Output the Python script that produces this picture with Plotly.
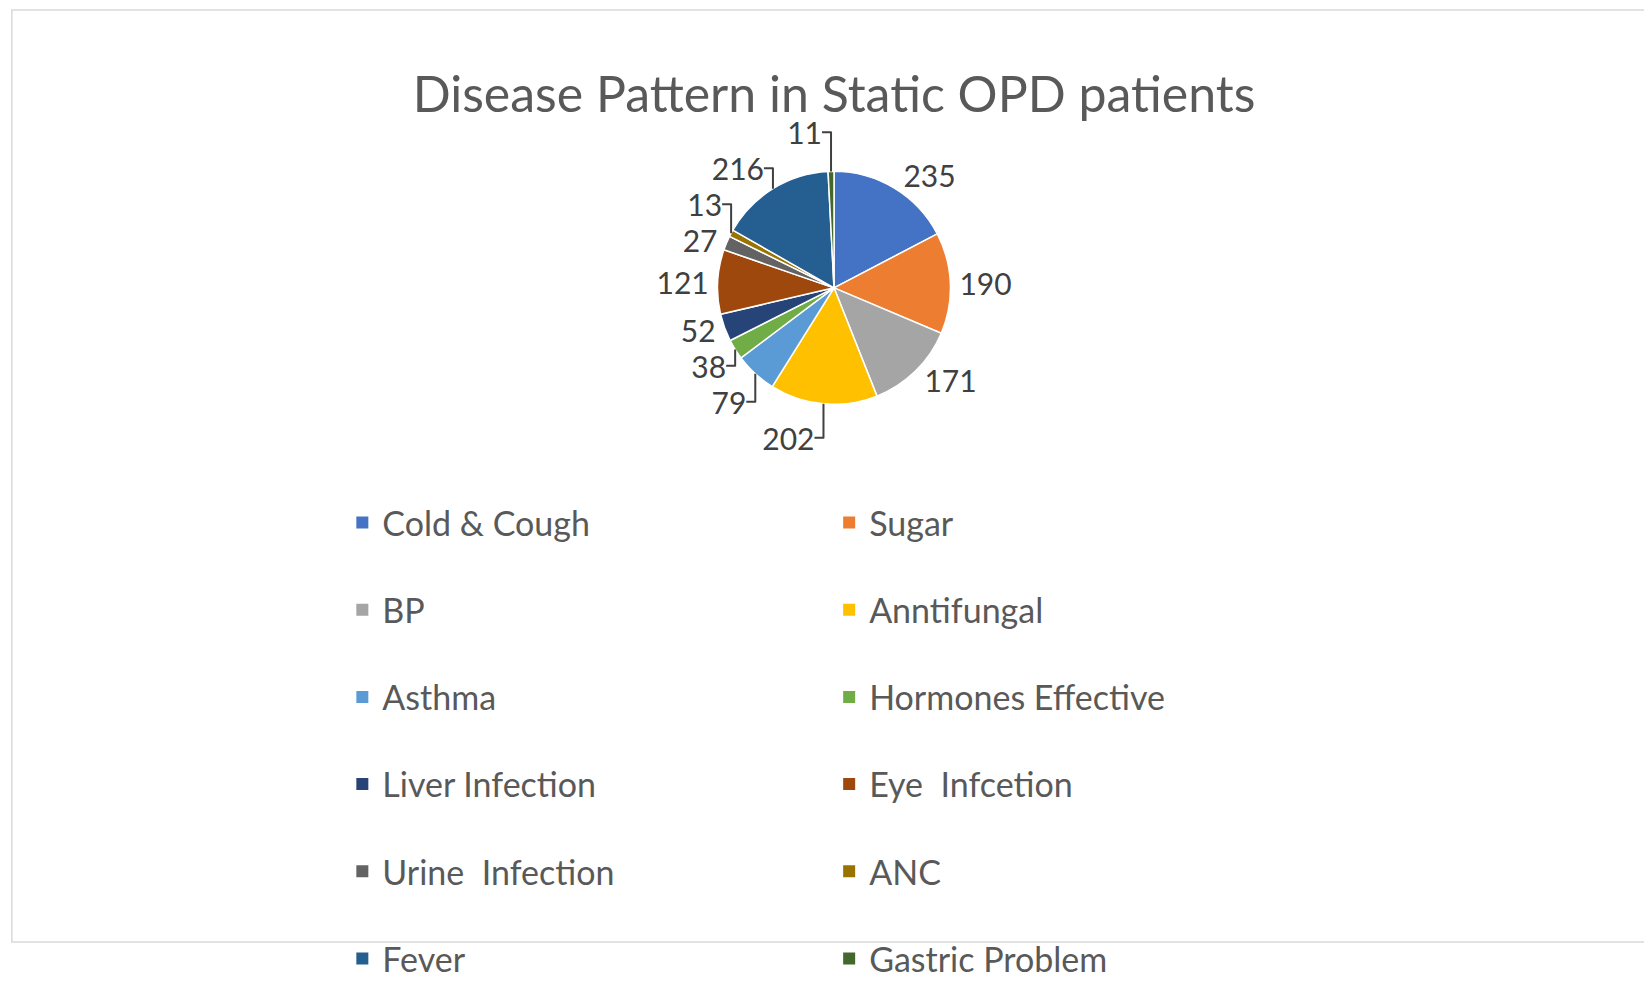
import plotly.graph_objects as go

# data
diseases = ['Cold & Cough', 'Sugar', 'BP', 'Anntifungal', 'Asthma', 'Hormones Effective',
            'Liver Infection', 'Eye  Infcetion', 'Urine  Infection', 'ANC', 'Fever', 'Gastric Problem']
patients = [235, 190, 171, 202, 79, 38, 52, 121, 27, 13, 216, 11]
colors = ['#4472C4', '#ED7D31', '#A5A5A5', '#FFC000', '#5B9BD5', '#70AD47',
          '#264478', '#9E480E', '#636363', '#997300', '#255E91', '#43682B']

fig = go.Figure(go.Pie(
    labels=diseases,
    values=patients,
    sort=False,
    direction='clockwise',
    rotation=0,
    marker=dict(colors=colors, line=dict(color='white', width=1.5)),
    textinfo='value',
    textposition='outside',
    textfont=dict(size=30, color='#404040'),
    showlegend=False,
    domain=dict(x=[0.3, 0.7], y=[0.58, 0.84]),
))

# legend entries in two columns (left: even index, right: odd index)
for i, (name, col) in enumerate(zip(diseases, colors)):
    fig.add_trace(go.Scatter(
        x=[None], y=[None], mode='markers', name=name,
        marker=dict(symbol='square', size=12, color=col),
        legend='legend' if i % 2 == 0 else 'legend2',
        legendgroup=name,
    ))

leg_common = dict(orientation='v', yanchor='top', y=0.48, tracegroupgap=40,
                  font=dict(size=34, color='#595959'), itemwidth=30,
                  bgcolor='rgba(0,0,0,0)')

fig.update_layout(
    width=1652, height=992,
    paper_bgcolor='white', plot_bgcolor='white',
    font=dict(family='Lato, Open Sans, sans-serif', color='#595959'),
    title=dict(text='Disease Pattern in Static OPD patients', x=0.5, y=0.93,
               xanchor='center', font=dict(size=50, color='#595959')),
    legend=dict(x=0.195, **leg_common),
    legend2=dict(x=0.497, **leg_common),
    xaxis=dict(visible=False), yaxis=dict(visible=False),
    margin=dict(l=20, r=20, t=20, b=20),
    shapes=[dict(type='rect', xref='paper', yref='paper', x0=-0.01, y0=-0.02, x1=1.01, y1=1.02,
                 line=dict(color='#D9D9D9', width=1.5))],
)

fig.write_html("out.html")
